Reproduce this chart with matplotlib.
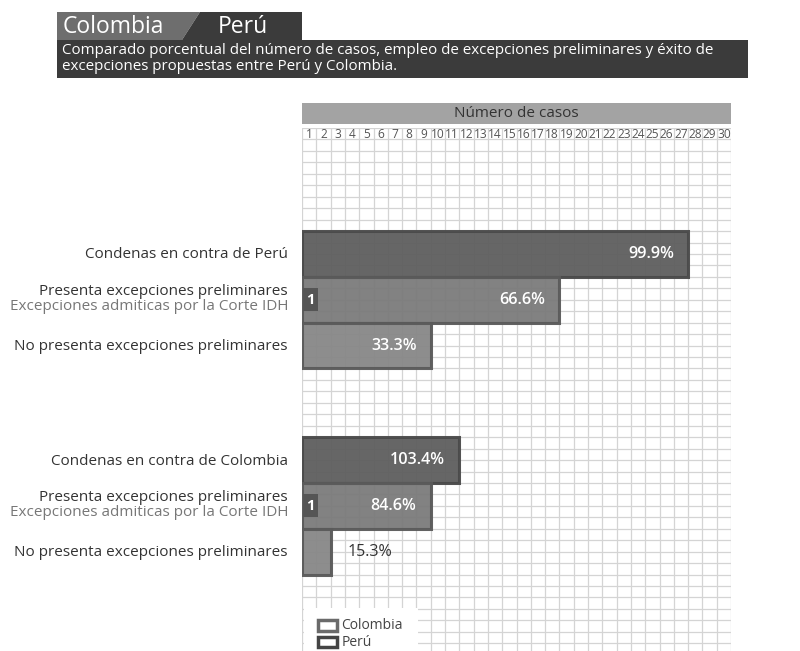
import numpy as np
import matplotlib as mpl
import matplotlib.pyplot as plt
from matplotlib.patches import Rectangle, Polygon

mpl.rcParams['font.family'] = ['Open Sans', 'DejaVu Sans']

# datos
categorias = ['Condenas en contra de', 'Presenta excepciones preliminares',
              'No presenta excepciones preliminares']
subcategoria = 'Excepciones admiticas por la Corte IDH'
paises = ['Perú', 'Colombia']
peru_casos = [27, 18, 9]
peru_pct = ['99.9%', '66.6%', '33.3%']
colombia_casos = [11, 9, 2]
colombia_pct = ['103.4%', '84.6%', '15.3%']
admitidas = [1, 1]  # excepciones admitidas (Perú, Colombia)
columnas = list(range(1, 31))

W, H = 800, 651
fig = plt.figure(figsize=(W / 100, H / 100), dpi=100)

# fondo en pixeles
bg = fig.add_axes([0, 0, 1, 1])
bg.set_xlim(0, W)
bg.set_ylim(H, 0)
bg.axis('off')

# cabecera
bg.add_patch(Polygon([[57, 12], [200, 12], [182, 40], [57, 40]], closed=True, color='#6e6e6e', lw=0))
bg.add_patch(Polygon([[200, 12], [302, 12], [302, 40], [182, 40]], closed=True, color='#3b3b3b', lw=0))
bg.add_patch(Rectangle((57, 40), 691, 38, color='#3b3b3b', lw=0))
bg.text(63, 27, 'Colombia', color='white', fontsize=16.5, va='center', ha='left')
bg.text(218, 27, 'Perú', color='white', fontsize=16.5, va='center', ha='left')
bg.text(62, 58.5, 'Comparado porcentual del número de casos, empleo de excepciones preliminares y éxito de\n'
        'excepciones propuestas entre Perú y Colombia.', color='white', fontsize=10.9,
        va='center', ha='left', linespacing=1.0)

# titulo del eje
bg.add_patch(Rectangle((302, 103), 429, 21, color='#a3a3a3', lw=0))
bg.text(516.5, 113.5, 'Número de casos', color='#333333', fontsize=11, ha='center', va='center')

# etiquetas de categorias
row = 11.45
y0 = 128
def py(r):
    return y0 + r * row

centros = [[11, 15, 19], [29, 33, 37]]
for g, pais in enumerate(paises):
    c = centros[g]
    bg.text(288, py(c[0]) + 1, categorias[0] + ' ' + pais, ha='right', va='center', fontsize=11, color='#333333')
    bg.text(288, py(c[1]) - 8, categorias[1], ha='right', va='center', fontsize=11, color='#333333')
    bg.text(288, py(c[1]) + 7, subcategoria, ha='right', va='center', fontsize=11, color='#777777')
    bg.text(288, py(c[2]) + 1, categorias[2], ha='right', va='center', fontsize=11, color='#333333')

# cuadricula
ax = fig.add_axes([302 / W, 0, 429 / W, (H - y0) / H])
nrows = (H - y0) / row
ax.set_xlim(0, 30)
ax.set_ylim(nrows, 0)
ax.axis('off')
for i in range(31):
    ax.axvline(i, color='#d4d4d4', lw=0.9, zorder=1)
for j in range(int(nrows) + 1):
    ax.axhline(j, color='#d4d4d4', lw=0.9, zorder=1)
for i, n in enumerate(columnas):
    ax.text(i + 0.5, 0.55, str(n), ha='center', va='center', fontsize=8.6, color='#555555')

fills = ['#5e5e5e', '#7b7b7b', '#878787']
edges = ['#4a4a4a', '#5a5a5a', '#5a5a5a']
for g, (casos, pct) in enumerate([(peru_casos, peru_pct), (colombia_casos, colombia_pct)]):
    c = centros[g]
    ax.barh(c, casos, height=4, left=0, color=fills, edgecolor=edges, lw=2.2, alpha=0.95, zorder=2)
    for k in range(3):
        if casos[k] > 4:
            ax.text(casos[k] - 1, c[k], pct[k], ha='right', va='center', fontsize=11.6,
                    fontweight='semibold', color='white', zorder=4)
        else:
            ax.text(casos[k] + 1.2, c[k], pct[k], ha='left', va='center', fontsize=11.6,
                    color='#333333', zorder=4)
    ax.barh(c[1], admitidas[g], height=2, left=0.1, color='#555555', lw=0, zorder=3)
    ax.text(0.1 + admitidas[g] / 2, c[1], str(admitidas[g]), ha='center', va='center', fontsize=10.5,
            fontweight='bold', color='white', zorder=4)

# leyenda
ax.add_patch(Rectangle((0.15, 41.9), 7.95, nrows - 41.9, color='white', lw=0, zorder=3))
ax.add_patch(Rectangle((1.15, 43.0), 1.3, 0.9, facecolor='white', edgecolor='#6a6a6a', lw=2.5, zorder=4))
ax.add_patch(Rectangle((1.15, 44.45), 1.3, 0.9, facecolor='white', edgecolor='#444444', lw=2.5, zorder=4))
ax.text(2.75, 43.45, 'Colombia', ha='left', va='center', fontsize=10, color='#444444', zorder=5)
ax.text(2.75, 44.95, 'Perú', ha='left', va='center', fontsize=10, color='#444444', zorder=5)

fig.savefig('out.png', dpi=100)
